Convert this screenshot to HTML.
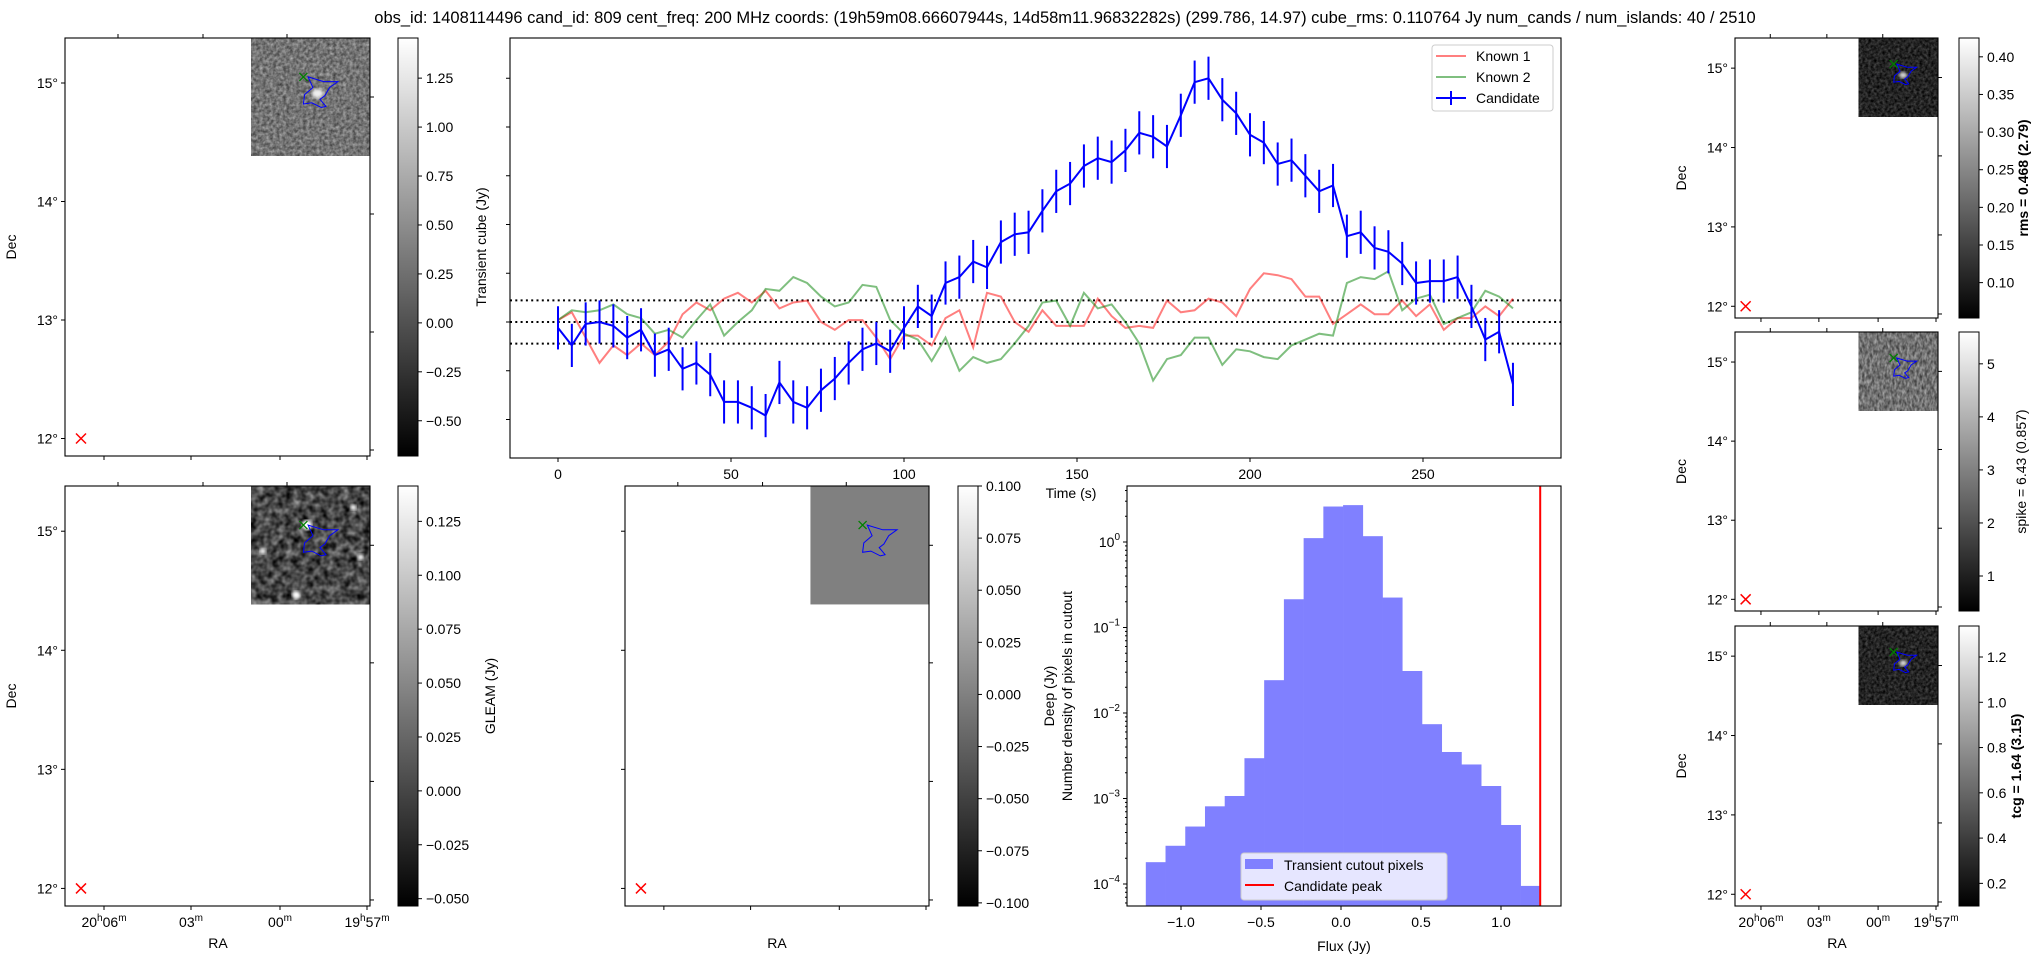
<!DOCTYPE html>
<html><head><meta charset="utf-8"><title>Candidate 809 summary</title>
<style>
html,body{margin:0;padding:0;background:#fff;}
svg{display:block;font-family:"Liberation Sans","DejaVu Sans",sans-serif;}
text{fill:#000;}
filter{color-interpolation-filters:sRGB;}
</style></head>
<body>
<svg id="fig" xmlns="http://www.w3.org/2000/svg" width="2043" height="960" viewBox="0 0 2043 960">
<defs>
  <linearGradient id="gray" x1="0" y1="1" x2="0" y2="0"><stop offset="0" stop-color="#000"/><stop offset="1" stop-color="#fff"/></linearGradient>
  <filter id="nMid" x="0" y="0" width="100%" height="100%" color-interpolation-filters="sRGB"><feTurbulence type="fractalNoise" baseFrequency="0.3" numOctaves="2" seed="4"/><feColorMatrix type="matrix" values="0.55 0 0 0 0.18  0.55 0 0 0 0.18  0.55 0 0 0 0.18  0 0 0 0 1"/></filter>
  <filter id="nDark" x="0" y="0" width="100%" height="100%" color-interpolation-filters="sRGB"><feTurbulence type="fractalNoise" baseFrequency="0.35" numOctaves="2" seed="9"/><feColorMatrix type="matrix" values="0.4 0 0 0 -0.06  0.4 0 0 0 -0.06  0.4 0 0 0 -0.06  0 0 0 0 1"/></filter>
  <filter id="nGleam" x="0" y="0" width="100%" height="100%" color-interpolation-filters="sRGB"><feTurbulence type="fractalNoise" baseFrequency="0.14" numOctaves="2" seed="2"/><feColorMatrix type="matrix" values="0.8 0 0 0 -0.12  0.8 0 0 0 -0.12  0.8 0 0 0 -0.12  0 0 0 0 1"/></filter>
  <filter id="nSpike" x="0" y="0" width="100%" height="100%" color-interpolation-filters="sRGB"><feTurbulence type="fractalNoise" baseFrequency="0.4 0.2" numOctaves="2" seed="7"/><feColorMatrix type="matrix" values="0.65 0 0 0 0.12  0.65 0 0 0 0.12  0.65 0 0 0 0.12  0 0 0 0 1"/></filter>
  <filter id="blur1" color-interpolation-filters="sRGB"><feGaussianBlur stdDeviation="1.5"/></filter>
</defs>
<text x="1065" y="23" font-size="16.5" text-anchor="middle">obs_id: 1408114496 cand_id: 809 cent_freq: 200 MHz coords: (19h59m08.66607944s, 14d58m11.96832282s) (299.786, 14.97) cube_rms: 0.110764 Jy num_cands / num_islands: 40 / 2510</text>
<g id="static"></g>
<g id="main-chart"></g>
<g id="hist-chart"></g>
</svg>
<script>
// ---- light curve data (time step 4 s) ----
const timeStep = 4;
const candidateFlux = [-0.03,-0.12,-0.01,0.00,-0.02,-0.08,-0.04,-0.17,-0.14,-0.24,
 -0.21,-0.27,-0.41,-0.41,-0.44,-0.48,-0.31,-0.41,-0.44,-0.35,
 -0.29,-0.21,-0.14,-0.11,-0.15,-0.03,0.08,0.03,0.20,0.23,
 0.31,0.28,0.41,0.45,0.46,0.57,0.67,0.71,0.80,0.84,
 0.82,0.88,0.97,0.95,0.90,1.06,1.23,1.25,1.14,1.07,
 0.96,0.92,0.81,0.83,0.75,0.67,0.70,0.44,0.46,0.38,
 0.36,0.30,0.20,0.21,0.21,0.23,0.08,-0.09,-0.05,-0.32];
const known1Flux = [0.01,0.05,-0.08,-0.21,-0.12,-0.17,-0.11,-0.17,-0.10,0.04,
 0.10,0.06,0.12,0.15,0.10,0.16,0.07,0.10,0.11,0.00,
 -0.04,0.01,0.01,-0.08,-0.19,-0.07,-0.07,-0.12,0.02,0.06,
 -0.13,0.15,0.13,0.00,-0.05,0.06,-0.02,-0.02,-0.02,0.12,
 0.03,-0.03,-0.02,-0.03,0.11,0.05,0.06,0.12,0.10,0.03,
 0.17,0.25,0.24,0.22,0.13,0.13,-0.01,0.04,0.09,0.04,
 0.04,0.11,0.03,0.09,-0.04,0.02,0.02,0.08,0.03,0.12];
const known2Flux = [0.01,0.06,0.05,0.06,0.09,0.04,0.02,-0.06,-0.04,-0.08,
 0.01,0.09,-0.07,0.00,0.06,0.17,0.16,0.23,0.20,0.13,
 0.08,0.10,0.19,0.18,0.01,-0.06,-0.09,-0.20,-0.08,-0.25,
 -0.18,-0.21,-0.19,-0.11,-0.02,0.10,0.11,-0.02,0.15,0.07,
 0.09,0.00,-0.11,-0.30,-0.19,-0.17,-0.08,-0.08,-0.22,-0.14,
 -0.15,-0.18,-0.19,-0.12,-0.09,-0.06,-0.07,0.20,0.23,0.22,
 0.26,0.06,0.12,0.14,-0.01,0.02,0.05,0.16,0.13,0.07];
const cubeRms = 0.110764;
const timeTicks = [0,50,100,150,200,250];
const fluxTicks = [-0.5,-0.25,0,0.25,0.5,0.75,1.0,1.25];
// ---- histogram data ----
const histStart = -1.22;
const histBinWidth = 0.1233;
const histDensity = [1.8e-4,2.8e-4,4.7e-4,8.1e-4,1.07e-3,2.96e-3,0.0242,0.214,1.11,2.6,2.7,1.17,0.224,0.031,0.0074,0.0035,0.0025,0.0014,4.9e-4,9.5e-5];
const candidatePeak = 1.245;
const histXTicks = [-1.0,-0.5,0.0,0.5,1.0];
const histYDecades = [0,-1,-2,-3,-4];

const NS = "http://www.w3.org/2000/svg";
function mk(tag, attrs, parent){const e=document.createElementNS(NS,tag);for(const k in attrs)e.setAttribute(k,attrs[k]);parent.appendChild(e);return e;}
function txt(parent,x,y,s,opt){opt=opt||{};const e=mk('text',{x:x,y:y,'font-size':opt.fs||14,'text-anchor':opt.anchor||'middle'},parent);if(opt.rot)e.setAttribute('transform','rotate(-90 '+x+' '+y+')');if(opt.bold)e.setAttribute('font-weight','bold');e.textContent=s;return e;}
function fmt(v,d){const s=v.toFixed(d);return v<0?'\u2212'+s.slice(1):s;}
const S=document.getElementById('static');

// ---- WCS panels ----
function wcsPanel(name,x0,y0,w,h,img,showDecLabels,showRA,decLabel){
  const g=mk('g',{},S);
  
  
  const iw=w*0.39, ih=h*(0.282);
  const ix=x0+w-iw, iy=y0;
  if(img.filter){const r=mk('rect',{x:ix,y:iy,width:iw,height:ih,fill:'#777',filter:'url(#'+img.filter+')'},g);}
  else {const r=mk('rect',{x:ix,y:iy,width:iw,height:ih,fill:img.fill},g);}
  if(img.blobs){img.blobs.forEach(b=>mk('circle',{cx:ix+b[0]*iw,cy:iy+b[1]*ih,r:b[2],fill:'#fff',filter:'url(#blur1)'},g));}
  if(img.spot){mk('ellipse',{cx:ix+0.56*iw,cy:iy+0.47*ih,rx:iw*0.05,ry:ih*0.04,fill:img.spot,filter:'url(#blur1)'},g);}
  const cont=[[0.48,0.33],[0.61,0.37],[0.73,0.37],[0.66,0.42],[0.62,0.49],[0.58,0.52],[0.63,0.58],[0.59,0.59],[0.51,0.55],[0.44,0.56],[0.45,0.48],[0.52,0.42]];
  const pc=mk('polygon',{points:cont.map(p=>(ix+p[0]*iw).toFixed(1)+','+(iy+p[1]*ih).toFixed(1)).join(' '),fill:'none',stroke:'#00f','stroke-width':1},g);
  
  const gx=ix+0.44*iw, gy=iy+0.33*ih;
  mk('path',{d:`M${gx-4},${gy-4}L${gx+4},${gy+4}M${gx-4},${gy+4}L${gx+4},${gy-4}`,stroke:'green','stroke-width':1.3},g);
  mk('rect',{x:x0,y:y0,width:w,height:h,fill:'none',stroke:'#000','stroke-width':1.1},g);
  const degPx=h*118.5/418;
  const dec15=y0+h*45/418;
  const rx=x0+w*16/305, ry=dec15+3*degPx;
  const rc=mk('path',{d:`M${rx-5},${ry-5}L${rx+5},${ry+5}M${rx-5},${ry+5}L${rx+5},${ry-5}`,stroke:'red','stroke-width':1.5},g);
  
  for(let i=0;i<4;i++){const yy=dec15+i*degPx;mk('line',{x1:x0-4,y1:yy,x2:x0,y2:yy,stroke:'#000'},g);
    if(showDecLabels)txt(g,x0-7,yy+5,(15-i)+'\u00b0',{anchor:'end'});}
  [59,176,294,412].forEach(o=>{const yy=y0+h*o/418;if(yy<y0+h)mk('line',{x1:x0+w,y1:yy,x2:x0+w+4,y2:yy,stroke:'#000'},g);});
  [53,138,222].forEach(o=>{const xx=x0+w*o/305;mk('line',{x1:xx,y1:y0,x2:xx,y2:y0-4,stroke:'#000'},g);});
  const bt=[39,126,215,302];
  const raL=[['20','06'],[null,'03'],[null,'00'],['19','57']];
  bt.forEach((o,i)=>{const xx=x0+w*o/305;mk('line',{x1:xx,y1:y0+h,x2:xx,y2:y0+h+4,stroke:'#000'},g);
    if(showRA){const t=mk('text',{x:xx,y:y0+h+21,'font-size':14,'text-anchor':'middle'},g);
      if(raL[i][0]){const a=mk('tspan',{},t);a.textContent=raL[i][0];const b=mk('tspan',{'font-size':10,dy:-6},t);b.textContent='h';const c=mk('tspan',{'font-size':14,dy:6},t);c.textContent=raL[i][1];}
      else{const c=mk('tspan',{},t);c.textContent=raL[i][1];}
      const m=mk('tspan',{'font-size':10,dy:-6},t);m.textContent='m';}});
  if(decLabel){const d=txt(g,x0-(showDecLabels?40:0)-9,y0+h/2,'Dec',{rot:true});}
  return g;
}
function colorbar(name,x,y0,h,ticks,vmin,vmax,dec,label,lx,bold){
  const g=mk('g',{},S);
  
  
  mk('rect',{x:x,y:y0,width:20,height:h,fill:'url(#gray)',stroke:'#000','stroke-width':1},g);
  ticks.forEach(v=>{const yy=y0+h-(v-vmin)/(vmax-vmin)*h;mk('line',{x1:x+20,y1:yy,x2:x+24,y2:yy,stroke:'#000'},g);txt(g,x+28,yy+5,dec===0?String(v):fmt(v,dec),{anchor:'start'});});
  const l=txt(g,lx,y0+h/2,label,{rot:true,bold:bold});
  
}
wcsPanel('transient-cutout-panel',65,38,305,418,{filter:'nMid',spot:'#eee'},true,false,true);
colorbar('transient-colorbar',398,38,418,[-0.5,-0.25,0,0.25,0.5,0.75,1.0,1.25],-0.68,1.455,2,'Transient cube (Jy)',486,false);
wcsPanel('gleam-cutout-panel',65,486,305,420,{filter:'nGleam',blobs:[[0.47,0.33,5],[0.38,0.92,4],[0.86,0.18,3],[0.92,0.6,3],[0.1,0.55,3]]},true,true,true);
colorbar('gleam-colorbar',398,486,420,[-0.05,-0.025,0,0.025,0.05,0.075,0.1,0.125],-0.0534,0.1414,3,'GLEAM (Jy)',495,false);
wcsPanel('deep-cutout-panel',625,486,304,420,{fill:'#808080'},false,false,false);
colorbar('deep-colorbar',958,486,420,[-0.1,-0.075,-0.05,-0.025,0,0.025,0.05,0.075,0.1],-0.1015,0.1,3,'Deep (Jy)',1054,false);
{const r=txt(S,777,948,'RA');}
{const r=txt(S,218,948,'RA');}
wcsPanel('rms-cutout-panel',1735,38,203,280,{filter:'nDark',spot:'#ddd'},true,false,true);
colorbar('rms-colorbar',1959,38,280,[0.1,0.15,0.2,0.25,0.3,0.35,0.4],0.053,0.425,2,'rms = 0.468 (2.79)',2028,true);
wcsPanel('spike-cutout-panel',1735,332,203,279,{filter:'nSpike'},true,false,true);
colorbar('spike-colorbar',1959,332,279,[1,2,3,4,5],0.34,5.6,0,'spike = 6.43 (0.857)',2026,false);
wcsPanel('tcg-cutout-panel',1735,626,203,280,{filter:'nDark',spot:'#ddd'},true,true,true);
colorbar('tcg-colorbar',1959,626,280,[0.2,0.4,0.6,0.8,1.0,1.2],0.10,1.337,1,'tcg = 1.64 (3.15)',2021,true);
{const r=txt(S,1837,948,'RA');}

// ---- main light curve ----
const M=document.getElementById('main-chart');
const tx=t=>558+t*3.46, vy=v=>322-v*195;
mk('rect',{x:510,y:38,width:1051,height:420,fill:'#fff'},M);
function line(arr,color,op,name){const p=mk('polyline',{points:arr.map((v,i)=>tx(i*timeStep).toFixed(1)+','+vy(v).toFixed(1)).join(' '),fill:'none',stroke:color,'stroke-opacity':op,'stroke-width':2},M);
  
  }
[cubeRms,0,-cubeRms].forEach((v,i)=>{const l=mk('line',{x1:510,x2:1561,y1:vy(v),y2:vy(v),stroke:'#000','stroke-width':2,'stroke-dasharray':'2,3.3'},M);
  
  });
line(known1Flux,'red',0.5,'known-1-line');
line(known2Flux,'green',0.5,'known-2-line');
line(candidateFlux,'blue',1,'candidate-line');
candidateFlux.forEach((v,i)=>{const x=tx(i*timeStep);const e=mk('line',{x1:x,x2:x,y1:vy(v-cubeRms),y2:vy(v+cubeRms),stroke:'blue','stroke-width':2},M);
  
  });
mk('rect',{x:510,y:38,width:1051,height:420,fill:'none',stroke:'#000','stroke-width':1.1},M);
timeTicks.forEach(t=>{mk('line',{x1:tx(t),x2:tx(t),y1:458,y2:462,stroke:'#000'},M);const l=txt(M,tx(t),479,String(t));});
fluxTicks.forEach(v=>{mk('line',{x1:506,x2:510,y1:vy(v),y2:vy(v),stroke:'#000'},M);});
{const l=txt(M,1071,498,'Time (s)');}
{const lg=mk('g',{},M);
 mk('rect',{x:1432,y:45,width:121,height:66,rx:3,fill:'#fff','fill-opacity':0.8,stroke:'#ccc'},lg);
 mk('line',{x1:1436,x2:1466,y1:56,y2:56,stroke:'red','stroke-opacity':0.5,'stroke-width':2},lg);txt(lg,1476,61,'Known 1',{anchor:'start'});
 mk('line',{x1:1436,x2:1466,y1:77,y2:77,stroke:'green','stroke-opacity':0.5,'stroke-width':2},lg);txt(lg,1476,82,'Known 2',{anchor:'start'});
 mk('line',{x1:1436,x2:1466,y1:98,y2:98,stroke:'blue','stroke-width':2},lg);mk('line',{x1:1451,x2:1451,y1:91,y2:105,stroke:'blue','stroke-width':2},lg);txt(lg,1476,103,'Candidate',{anchor:'start'});}

// ---- histogram ----
const H=document.getElementById('hist-chart');
const hx=f=>1341+f*160, hy=v=>542-Math.log10(v)*85.5, HB=906;
histDensity.forEach((d,i)=>{const x1=hx(histStart+i*histBinWidth),x2=hx(histStart+(i+1)*histBinWidth);const y=Math.max(hy(d),486);
  const r=mk('rect',{x:x1,y:y,width:x2-x1+0.3,height:HB-y,fill:'#8080ff'},H);
  
  });
{const l=mk('line',{x1:hx(candidatePeak),x2:hx(candidatePeak),y1:486,y2:906,stroke:'red','stroke-width':2},H);}
mk('rect',{x:1127,y:486,width:434,height:420,fill:'none',stroke:'#000','stroke-width':1.1},H);
histXTicks.forEach(f=>{mk('line',{x1:hx(f),x2:hx(f),y1:906,y2:910,stroke:'#000'},H);txt(H,hx(f),927,fmt(f,1));});
histYDecades.forEach(dv=>{const y=hy(Math.pow(10,dv));mk('line',{x1:1123,x2:1127,y1:y,y2:y,stroke:'#000'},H);
  const t=mk('text',{x:1120,y:y+5,'font-size':14,'text-anchor':'end'},H);const a=mk('tspan',{},t);a.textContent='10';const b=mk('tspan',{'font-size':10,dy:-7},t);b.textContent=dv===0?'0':'\u2212'+(-dv);
  for(let k=2;k<10;k++){const yy=hy(k*Math.pow(10,dv));if(yy>486&&yy<906)mk('line',{x1:1125,x2:1127,y1:yy,y2:yy,stroke:'#000'},H);}});
for(let k=6;k<10;k++){const yy=hy(k*1e-5);if(yy<906)mk('line',{x1:1125,x2:1127,y1:yy,y2:yy,stroke:'#000'},H);}
{const l=txt(H,1344,951,'Flux (Jy)');}
{const l=txt(H,1072,696,'Number density of pixels in cutout',{rot:true});}
{const lg=mk('g',{},H);
 mk('rect',{x:1241,y:853,width:206,height:47,rx:3,fill:'#fff','fill-opacity':0.8,stroke:'#ccc'},lg);
 mk('rect',{x:1245,y:859,width:28,height:10,fill:'#8080ff'},lg);txt(lg,1284,870,'Transient cutout pixels',{anchor:'start'});
 mk('line',{x1:1245,x2:1274,y1:885,y2:885,stroke:'red','stroke-width':2},lg);txt(lg,1284,891,'Candidate peak',{anchor:'start'});}
</script>
</body></html>
